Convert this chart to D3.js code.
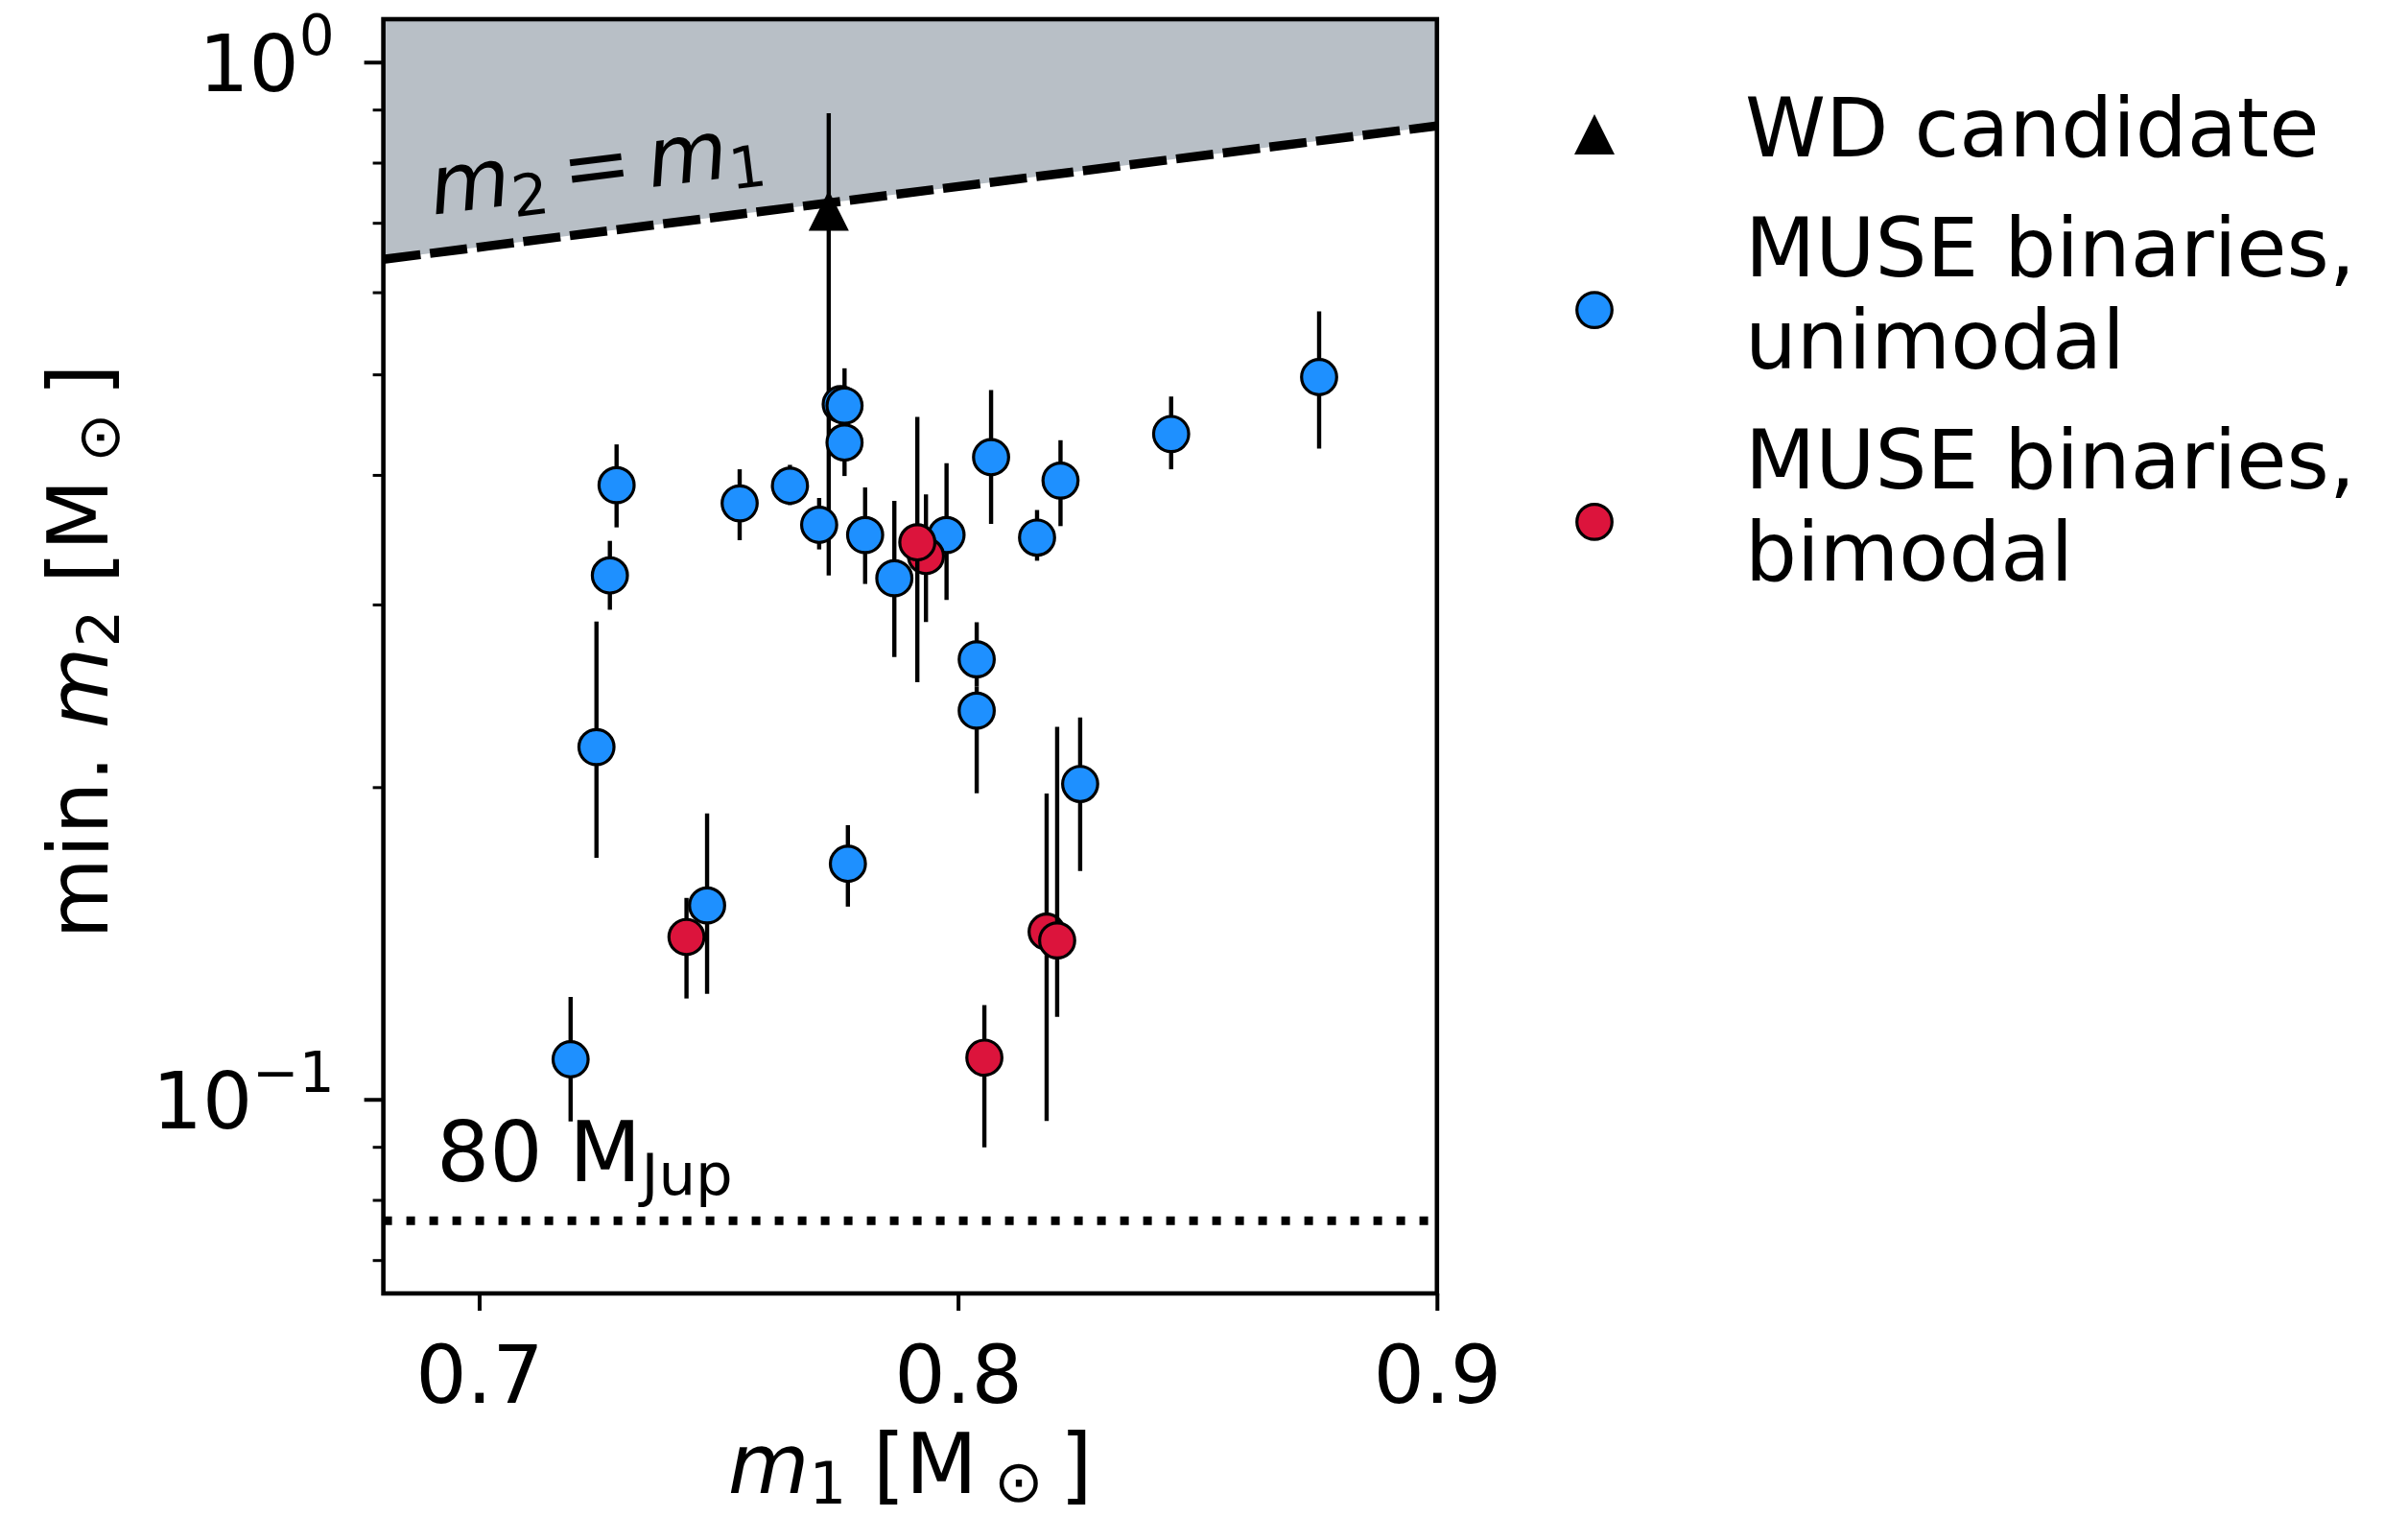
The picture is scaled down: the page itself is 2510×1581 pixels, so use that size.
<!DOCTYPE html>
<html>
<head>
<meta charset="utf-8">
<script src="https://cdn.jsdelivr.net/npm/d3@7"></script>
<style>
  body { margin: 0; background: #fff; }
  svg { display: block; }
  text { font-family: 'DejaVu Sans', sans-serif; fill: #000; }
</style>
</head>
<body>
<svg id="chart" width="2510" height="1581"></svg>
<script>
// MUSE binaries: primary mass, minimum companion mass and its error range
var m1 = [0.7191, 0.7245, 0.7273, 0.7287, 0.7433, 0.7476, 0.7544, 0.7649, 0.7710, 0.7755,
          0.7763, 0.7763, 0.7770, 0.7806, 0.7867, 0.7976, 0.7933, 0.7915, 0.8039, 0.8039,
          0.8055, 0.8069, 0.8165, 0.8185, 0.8207, 0.8214, 0.8255, 0.8445, 0.8754];
var m2 = [0.1093, 0.2186, 0.3200, 0.3910, 0.1434, 0.1538, 0.3755, 0.3905, 0.3580, 0.4680,
          0.4664, 0.4298, 0.1687, 0.3500, 0.3180, 0.3500, 0.3341, 0.3444, 0.2656, 0.2370,
          0.1097, 0.4160, 0.3480, 0.1451, 0.1423, 0.3950, 0.2014, 0.4380, 0.4970];
var m2Lo = [0.0952, 0.1710, 0.2965, 0.3560, 0.1251, 0.1264, 0.3460, 0.3740, 0.3390, 0.4520,
            0.4450, 0.3990, 0.1534, 0.3140, 0.2670, 0.3030, 0.2886, 0.2525, 0.2500, 0.1973,
            0.0899, 0.3587, 0.3306, 0.0953, 0.1201, 0.3570, 0.1660, 0.4050, 0.4240];
var m2Hi = [0.1255, 0.2888, 0.3455, 0.4280, 0.1564, 0.1887, 0.4050, 0.4090, 0.3800, 0.4820,
            0.5068, 0.4460, 0.1838, 0.3890, 0.3775, 0.4105, 0.3830, 0.4550, 0.2884, 0.2500,
            0.1233, 0.4830, 0.3700, 0.1972, 0.2286, 0.4320, 0.2335, 0.4760, 0.5750];
var mode = ['uni', 'uni', 'uni', 'uni', 'bi', 'uni', 'uni', 'uni', 'uni', 'uni',
            'uni', 'uni', 'uni', 'uni', 'uni', 'uni', 'bi', 'bi', 'uni', 'uni',
            'bi', 'uni', 'uni', 'bi', 'bi', 'uni', 'uni', 'uni', 'uni'];

// white dwarf candidate
var wdM1 = [0.773];
var wdM2 = [0.719];
var wdLo = [0.320];
var wdHi = [0.893];

// m2 = m1 boundary and the 80 M_Jup limit
var boundM1 = [0.68, 0.90];
var boundM2 = [0.6455, 0.868];
var jupLimit = 80 * 0.000954588;

var xTicks = [0.7, 0.8, 0.9];
var yMajor = [0.1, 1];
var yExp = ['\u22121', '0'];
var yMinor = [0.07, 0.08, 0.09, 0.2, 0.3, 0.4, 0.5, 0.6, 0.7, 0.8, 0.9];

var legendLabels = [['WD candidate'], ['MUSE binaries,', 'unimodal'], ['MUSE binaries,', 'bimodal']];
var legendKind = ['wd', 'uni', 'bi'];

var colors = {uni: '#1e90ff', bi: '#dc143c'};

var svg = d3.select('#chart');
var axLeft = 399.6, axRight = 1497.8, axTop = 20, axBottom = 1348;

var x = d3.scaleLinear().domain([0.68, 0.9]).range([axLeft, axRight]);
var y = d3.scaleLog().domain([0.065, 1.1]).range([axBottom, axTop]);

svg.append('defs').append('clipPath').attr('id', 'clip')
  .append('rect').attr('x', axLeft).attr('y', axTop)
  .attr('width', axRight - axLeft).attr('height', axBottom - axTop);

var plot = svg.append('g').attr('clip-path', 'url(#clip)');

// shaded region above m2 = m1
var bound = boundM1.map(function(d, i) { return {m1: d, m2: boundM2[i]}; });
plot.append('path').datum(bound)
  .attr('fill', '#b8bfc6')
  .attr('d', d3.area().x(function(d) { return x(d.m1); })
    .y0(function() { return y(1.1); }).y1(function(d) { return y(d.m2); }));
plot.append('path').datum(bound)
  .attr('fill', 'none').attr('stroke', '#000').attr('stroke-width', 9.5)
  .attr('stroke-dasharray', '39,10')
  .attr('d', d3.line().x(function(d) { return x(d.m1); }).y(function(d) { return y(d.m2); }));

// 80 M_Jup line
plot.append('line')
  .attr('x1', x(0.68)).attr('x2', x(0.9))
  .attr('y1', y(jupLimit)).attr('y2', y(jupLimit))
  .attr('stroke', '#000').attr('stroke-width', 9).attr('stroke-dasharray', '9,15');

// WD candidate
plot.selectAll('.wdbar').data(wdM1).enter().append('line').attr('class', 'wdbar')
  .attr('x1', function(d) { return x(d); }).attr('x2', function(d) { return x(d); })
  .attr('y1', function(d, i) { return y(wdLo[i]); }).attr('y2', function(d, i) { return y(wdHi[i]); })
  .attr('stroke', '#000').attr('stroke-width', 4.4);
function triPath(s) {
  return 'M0,' + (-s / 2) + 'L' + (s / 2) + ',' + (s / 2) + 'L' + (-s / 2) + ',' + (s / 2) + 'Z';
}
plot.selectAll('.wd').data(wdM1).enter().append('path').attr('class', 'wd')
  .attr('transform', function(d, i) { return 'translate(' + x(d) + ',' + y(wdM2[i]) + ')'; })
  .attr('d', triPath(42)).attr('fill', '#000');

// MUSE binaries, error bar then marker for each star
var stars = m1.map(function(d, i) { return {m1: d, m2: m2[i], lo: m2Lo[i], hi: m2Hi[i], mode: mode[i]}; });
var starG = plot.selectAll('.star').data(stars).enter().append('g').attr('class', 'star');
starG.append('line')
  .attr('x1', function(d) { return x(d.m1); }).attr('x2', function(d) { return x(d.m1); })
  .attr('y1', function(d) { return y(d.lo); }).attr('y2', function(d) { return y(d.hi); })
  .attr('stroke', '#000').attr('stroke-width', 4.4);
starG.append('circle')
  .attr('cx', function(d) { return x(d.m1); }).attr('cy', function(d) { return y(d.m2); })
  .attr('r', 18.3)
  .attr('fill', function(d) { return colors[d.mode]; })
  .attr('stroke', '#000').attr('stroke-width', 3.2);

// annotations
var a1 = svg.append('text')
  .attr('transform', 'translate(' + x(0.6904) + ',' + y(0.7127) + ') rotate(-7.2)')
  .attr('font-size', 86);
a1.append('tspan').attr('font-style', 'italic').text('m');
a1.append('tspan').attr('font-size', 60).attr('dy', 13).text('2');
a1.append('tspan').attr('dy', -13).text('\u2009=\u2009');
a1.append('tspan').attr('font-style', 'italic').text('m');
a1.append('tspan').attr('font-size', 60).attr('dy', 13).text('1');

var a2 = svg.append('text')
  .attr('x', x(0.6911)).attr('y', y(0.0834))
  .attr('font-size', 87);
a2.append('tspan').text('80 M');
a2.append('tspan').attr('font-size', 61).attr('dy', 14).text('Jup');

// axes
var xAxis = svg.append('g').attr('transform', 'translate(0,' + axBottom + ')')
  .call(d3.axisBottom(x).tickValues(xTicks).tickFormat(d3.format('.1f'))
    .tickSizeInner(18).tickSizeOuter(0).tickPadding(36));
xAxis.select('.domain').remove();
xAxis.selectAll('.tick line').attr('stroke-width', 4);
xAxis.selectAll('.tick text').attr('font-size', 84).attr('font-family', 'DejaVu Sans');

var yMinAxis = svg.append('g').attr('transform', 'translate(' + axLeft + ',0)')
  .call(d3.axisLeft(y).tickValues(yMinor).tickFormat('').tickSizeInner(11).tickSizeOuter(0));
yMinAxis.select('.domain').remove();
yMinAxis.selectAll('.tick line').attr('stroke-width', 3);

var yAxis = svg.append('g').attr('transform', 'translate(' + axLeft + ',0)')
  .call(d3.axisLeft(y).tickValues(yMajor).tickFormat('').tickSizeInner(20).tickSizeOuter(0));
yAxis.select('.domain').remove();
yAxis.selectAll('.tick line').attr('stroke-width', 4);
yAxis.selectAll('.tick').each(function(d, i) {
  var t = d3.select(this).append('text')
    .attr('x', -51).attr('y', 30).attr('text-anchor', 'end')
    .attr('font-size', 82).attr('font-family', 'DejaVu Sans');
  t.append('tspan').text('10');
  t.append('tspan').attr('font-size', 58).attr('dy', -38).text(yExp[i]);
});

svg.append('rect').attr('x', axLeft).attr('y', axTop)
  .attr('width', axRight - axLeft).attr('height', axBottom - axTop)
  .attr('fill', 'none').attr('stroke', '#000').attr('stroke-width', 4.6);

// axis labels
var xl = svg.append('text').attr('x', (axLeft + axRight) / 2).attr('y', 1556)
  .attr('text-anchor', 'middle').attr('font-size', 87);
xl.append('tspan').attr('font-style', 'italic').text('m');
xl.append('tspan').attr('font-size', 61).attr('dy', 11).text('1');
xl.append('tspan').attr('dy', -11).text(' [M\u2009');
xl.append('tspan').attr('font-size', 61).attr('dy', 9).text('\u2299');
xl.append('tspan').attr('dy', -9).text('\u2009]');

var yl = svg.append('text')
  .attr('transform', 'translate(112,' + ((axTop + axBottom) / 2 - 5) + ') rotate(-90)')
  .attr('text-anchor', 'middle').attr('font-size', 87);
yl.append('tspan').text('min. ');
yl.append('tspan').attr('font-style', 'italic').text('m');
yl.append('tspan').attr('font-size', 61).attr('dy', 12).text('2');
yl.append('tspan').attr('dy', -12).text(' [M\u2009');
yl.append('tspan').attr('font-size', 61).attr('dy', 12).text('\u2299');
yl.append('tspan').attr('dy', -12).text('\u2009]');

// legend
var lineStep = 95.4, entryStep = 125.4, legX = 1662, legTextX = 1819;
var base = 163;
legendLabels.forEach(function(lines, i) {
  var first = base;
  var last = base + (lines.length - 1) * lineStep;
  var my = (first + last) / 2 - (lines.length === 1 ? 23 : 13);
  if (legendKind[i] === 'wd') {
    svg.append('path').attr('transform', 'translate(' + legX + ',' + my + ')')
      .attr('d', triPath(42)).attr('fill', '#000');
  } else {
    svg.append('circle').attr('cx', legX).attr('cy', my).attr('r', 18.3)
      .attr('fill', colors[legendKind[i]]).attr('stroke', '#000').attr('stroke-width', 3.2);
  }
  lines.forEach(function(s, j) {
    svg.append('text').attr('x', legTextX).attr('y', first + j * lineStep)
      .attr('font-size', 85).text(s);
  });
  base = last + entryStep;
});
</script>
</body>
</html>
